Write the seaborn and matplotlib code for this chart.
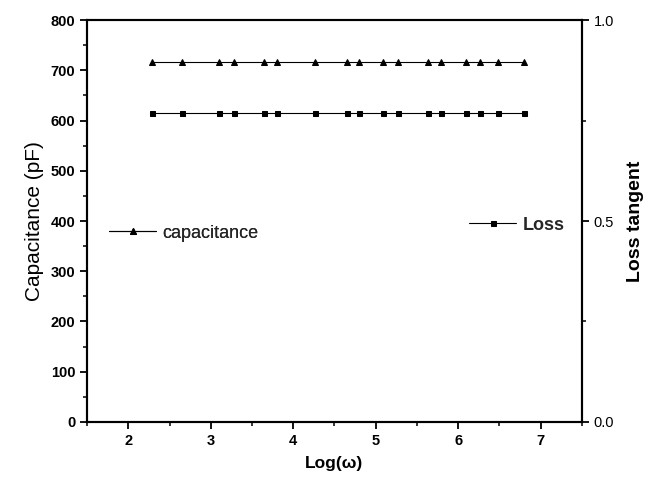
import matplotlib
matplotlib.use("Agg")
import matplotlib.pyplot as plt
from matplotlib.ticker import MultipleLocator
import seaborn as sns
import pandas as pd

log_omega = [2.29, 2.65, 3.10, 3.28, 3.64, 3.80, 4.27, 4.65, 4.80, 5.09,
             5.27, 5.64, 5.79, 6.09, 6.26, 6.49, 6.80]
capacitance = [717] * len(log_omega)
loss = [0.77] * len(log_omega)

df = pd.DataFrame({"x": log_omega, "cap": capacitance, "loss": loss})

sns.set_theme(style="ticks")
plt.rcParams["font.family"] = ["Liberation Sans", "DejaVu Sans"]

fig = plt.figure(figsize=(6.5, 4.8), dpi=100)
ax = fig.add_axes([0.134, 0.121, 0.761, 0.837])
ax2 = ax.twinx()

sns.lineplot(data=df, x="x", y="cap", ax=ax, color="black", marker="^",
             markersize=4.5, linewidth=0.8, markeredgecolor="black",
             label="capacitance", legend=False)
sns.lineplot(data=df, x="x", y="loss", ax=ax2, color="black", marker="s",
             markersize=3.6, linewidth=0.8, markeredgecolor="black",
             label="Loss", legend=False)

ax.set_xlim(1.5, 7.5)
ax.set_ylim(0, 800)
ax2.set_ylim(0, 1.0)
ax.xaxis.set_major_locator(MultipleLocator(1))
ax.xaxis.set_minor_locator(MultipleLocator(0.5))
ax.yaxis.set_major_locator(MultipleLocator(100))
ax.yaxis.set_minor_locator(MultipleLocator(50))
ax2.yaxis.set_major_locator(MultipleLocator(0.5))
ax2.yaxis.set_minor_locator(MultipleLocator(0.25))

for a in (ax, ax2):
    for s in a.spines.values():
        s.set_visible(True)
        s.set_linewidth(1.5)
        s.set_color("black")
    a.tick_params(which="major", length=5, width=1.3, color="black",
                  labelsize=10.5, labelcolor="black", direction="out")
    a.tick_params(which="minor", length=3, width=1.1, color="black",
                  direction="out")
    a.grid(False)
for lbl in ax.get_xticklabels():
    lbl.set_fontweight("bold")
for lbl in ax.get_yticklabels():
    lbl.set_fontweight("bold")

ax.set_xlabel("Log(ω)", fontsize=12.5, fontweight="bold", color="black", labelpad=6)
ax.set_ylabel("Capacitance (pF)", fontsize=15, color="black", labelpad=5)
ax2.set_ylabel("Loss tangent", fontsize=14, fontweight="bold", color="black", labelpad=9)

h1, l1 = ax.get_legend_handles_labels()
h2, l2 = ax2.get_legend_handles_labels()
leg1 = ax.legend(h1, l1, loc="center left", bbox_to_anchor=(0.012, 0.47),
                 frameon=False, handlelength=2.6, handletextpad=0.35,
                 prop={"size": 13})
ax.add_artist(leg1)
leg2 = ax2.legend(h2, l2, loc="center left", bbox_to_anchor=(0.74, 0.49),
                  frameon=False, handlelength=2.6, handletextpad=0.35,
                  prop={"weight": "bold", "size": 13})

fig.savefig("out.png", dpi=100, facecolor="white")
